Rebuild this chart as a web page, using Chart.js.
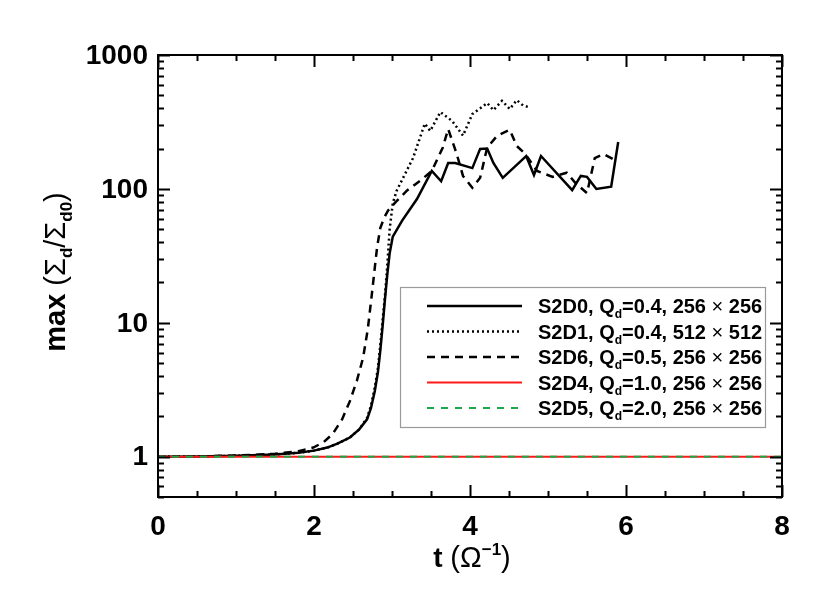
<!DOCTYPE html>
<html>
<head>
<meta charset="utf-8">
<script src="https://cdn.jsdelivr.net/npm/chart.js@4/dist/chart.umd.min.js"></script>
<style>
  html, body { margin: 0; padding: 0; background: #fff; }
  #wrap { width: 830px; height: 600px; }
</style>
</head>
<body>
<div id="wrap"><canvas id="growthChart" width="830" height="600"></canvas></div>
<script>
// run labels for the legend
const runNames = ['S2D0', 'S2D1', 'S2D6', 'S2D4', 'S2D5'];
const qValues = ['0.4', '0.4', '0.5', '1.0', '2.0'];
const gridSizes = ['256 × 256', '512 × 512', '256 × 256', '256 × 256', '256 × 256'];

// S2D0, Qd=0.4, 256x256
const tS2D0 = [0, 0.5, 1.0, 1.5, 1.8, 2.0, 2.17, 2.3, 2.46, 2.58, 2.68, 2.73, 2.78, 2.82, 2.85, 2.88, 2.91, 2.94, 2.97, 3.01, 3.13, 3.32, 3.51, 3.63, 3.72, 3.81, 4.03, 4.13, 4.22, 4.30, 4.42, 4.72, 4.82, 4.91, 5.31, 5.42, 5.50, 5.62, 5.81, 5.90];
const maxS2D0 = [1.0, 1.005, 1.015, 1.04, 1.07, 1.11, 1.17, 1.25, 1.39, 1.6, 1.9, 2.3, 3.1, 4.3, 6.2, 9.5, 15, 23, 33, 44, 58, 84, 136, 114, 156, 156, 143, 199, 200, 156, 121, 176, 127, 176, 98, 125, 123, 100, 104, 224];

// S2D1, Qd=0.4, 512x512
const tS2D1 = [0, 0.5, 1.0, 1.5, 1.8, 2.0, 2.17, 2.3, 2.46, 2.58, 2.68, 2.73, 2.78, 2.82, 2.85, 2.88, 2.91, 2.94, 2.97, 3.01, 3.06, 3.27, 3.42, 3.49, 3.62, 3.77, 3.91, 4.03, 4.22, 4.30, 4.41, 4.51, 4.60, 4.68, 4.77];
const maxS2D1 = [1.0, 1.005, 1.015, 1.04, 1.07, 1.11, 1.17, 1.25, 1.39, 1.6, 1.95, 2.4, 3.3, 4.6, 6.8, 10.5, 16, 27, 50, 78, 97, 170, 307, 271, 375, 322, 250, 362, 438, 387, 455, 395, 460, 420, 405];

// S2D6, Qd=0.5, 256x256
const tS2D6 = [0, 0.5, 1.0, 1.5, 1.8, 1.99, 2.12, 2.24, 2.36, 2.46, 2.55, 2.63, 2.69, 2.74, 2.78, 2.81, 2.85, 2.9, 2.95, 3.04, 3.19, 3.36, 3.51, 3.65, 3.72, 3.83, 3.91, 4.03, 4.13, 4.22, 4.35, 4.51, 4.60, 4.71, 4.86, 5.06, 5.24, 5.35, 5.50, 5.60, 5.71, 5.88];
const maxS2D6 = [1.0, 1.005, 1.02, 1.05, 1.1, 1.17, 1.28, 1.48, 1.9, 2.6, 3.7, 5.5, 9, 16, 26, 37, 51, 61, 69, 79, 97, 115, 136, 203, 280, 182, 125, 102, 121, 203, 250, 276, 209, 182, 136, 123, 132, 111, 93, 170, 182, 162];

// S2D4 and S2D5 stay flat
const tFlat = [0, 8];
const maxS2D4 = [1, 1];
const maxS2D5 = [1, 1];

const xTickLabels = [0, 2, 4, 6, 8];
const yTickLabels = [1, 10, 100, 1000];

const FONT = '"Liberation Sans", Arial, Helvetica, sans-serif';

function toPoints(ts, vs) {
    return ts.map((t, i) => ({ x: t, y: vs[i] }));
}

const seriesStyles = [
    { color: '#000000', width: 2.5, dash: [] },
    { color: '#000000', width: 2.5, dash: [2, 3] },
    { color: '#000000', width: 2.5, dash: [8, 6] },
    { color: '#ff1a1a', width: 2, dash: [] },
    { color: '#1aa84a', width: 2, dash: [7, 7] }
];
const seriesData = [
    toPoints(tS2D0, maxS2D0),
    toPoints(tS2D1, maxS2D1),
    toPoints(tS2D6, maxS2D6),
    toPoints(tFlat, maxS2D4),
    toPoints(tFlat, maxS2D5)
];

// draws a list of runs, some raised or lowered, as one string
function drawRich(ctx, runs, x, y, align) {
    let total = 0;
    runs.forEach(r => {
        ctx.font = r.font;
        r.w = ctx.measureText(r.text).width;
        total += r.w;
    });
    let cx = align === 'center' ? x - total / 2 : (align === 'right' ? x - total : x);
    runs.forEach(r => {
        ctx.font = r.font;
        ctx.fillText(r.text, cx, y + (r.dy || 0));
        cx += r.w;
    });
}

const idlPlugin = {
    id: 'idlStyle',
    afterDatasetsDraw(chart) {
        const ctx = chart.ctx;
        const area = chart.chartArea;
        const xs = chart.scales.x;
        const ys = chart.scales.y;
        ctx.save();
        ctx.strokeStyle = '#000';
        ctx.fillStyle = '#000';
        ctx.lineWidth = 2;
        ctx.setLineDash([]);
        ctx.strokeRect(area.left, area.top, area.right - area.left, area.bottom - area.top);

        // x ticks, inward on bottom and top
        for (let v = 0; v <= 8.001; v += 0.5) {
            const px = Math.round(xs.getPixelForValue(v)) + 0.5;
            const major = Math.abs(v - Math.round(v / 2) * 2) < 1e-6;
            const len = major ? 12 : 6;
            ctx.beginPath();
            ctx.moveTo(px, area.bottom); ctx.lineTo(px, area.bottom - len);
            ctx.moveTo(px, area.top); ctx.lineTo(px, area.top + len);
            ctx.stroke();
        }
        // y ticks, log decades with minor marks
        const yMinor = [];
        [0.1, 1, 10, 100].forEach(d => {
            for (let k = 1; k <= 9; k++) yMinor.push(k * d);
        });
        yMinor.push(1000);
        yMinor.forEach(v => {
            if (v < 0.5 || v > 1000) return;
            const py = Math.round(ys.getPixelForValue(v)) + 0.5;
            const major = yTickLabels.includes(v);
            const len = major ? 12 : 6;
            ctx.beginPath();
            ctx.moveTo(area.left, py); ctx.lineTo(area.left + len, py);
            ctx.moveTo(area.right, py); ctx.lineTo(area.right - len, py);
            ctx.stroke();
        });

        // tick labels
        ctx.font = 'bold 28px ' + FONT;
        ctx.textBaseline = 'middle';
        ctx.textAlign = 'center';
        xTickLabels.forEach(v => {
            ctx.fillText(String(v), xs.getPixelForValue(v), area.bottom + 30);
        });
        ctx.textAlign = 'right';
        yTickLabels.forEach(v => {
            ctx.fillText(String(v), area.left - 10, ys.getPixelForValue(v) + 1);
        });

        // axis titles
        ctx.textAlign = 'left';
        ctx.textBaseline = 'alphabetic';
        drawRich(ctx, [
            { text: 't ', font: 'bold 28px ' + FONT },
            { text: '(Ω', font: '29px ' + FONT },
            { text: '−1', font: 'bold 17px ' + FONT, dy: -12 },
            { text: ')', font: '29px ' + FONT }
        ], 472, 567, 'center');

        ctx.save();
        ctx.translate(65, 272);
        ctx.rotate(-Math.PI / 2);
        drawRich(ctx, [
            { text: 'max ', font: 'bold 29px ' + FONT },
            { text: '(Σ', font: '29px ' + FONT },
            { text: 'd', font: 'bold 17px ' + FONT, dy: 7 },
            { text: '/Σ', font: '29px ' + FONT },
            { text: 'd0', font: 'bold 17px ' + FONT, dy: 7 },
            { text: ')', font: '29px ' + FONT }
        ], 0, 0, 'center');
        ctx.restore();

        // legend box
        const bx = 400, by = 287, bw = 365, bh = 140;
        ctx.fillStyle = '#fff';
        ctx.fillRect(bx, by, bw, bh);
        ctx.strokeStyle = '#9a9a9a';
        ctx.lineWidth = 1.2;
        ctx.strokeRect(bx + 0.5, by + 0.5, bw, bh);
        const legFont = 'bold 20px ' + FONT;
        const subFont = 'bold 12px ' + FONT;
        const timesFont = '20px ' + FONT;
        runNames.forEach((name, i) => {
            const rowY = by + 19 + i * 25.5;
            const st = seriesStyles[i];
            ctx.strokeStyle = st.color;
            ctx.lineWidth = st.width;
            ctx.setLineDash(st.dash);
            ctx.beginPath();
            ctx.moveTo(427, rowY);
            ctx.lineTo(522, rowY);
            ctx.stroke();
            ctx.setLineDash([]);
            ctx.fillStyle = '#000';
            const parts = gridSizes[i].split(' × ');
            drawRich(ctx, [
                { text: name + ', Q', font: legFont },
                { text: 'd', font: subFont, dy: 5 },
                { text: '=' + qValues[i] + ', ' + parts[0] + ' ', font: legFont },
                { text: '×', font: timesFont },
                { text: ' ' + parts[1], font: legFont }
            ], 538, rowY + 7, 'left');
        });
        ctx.restore();
    }
};

new Chart(document.getElementById('growthChart').getContext('2d'), {
    type: 'line',
    data: {
        datasets: runNames.map((name, i) => ({
            label: name + ', Qd=' + qValues[i] + ', ' + gridSizes[i],
            data: seriesData[i],
            borderColor: seriesStyles[i].color,
            borderWidth: seriesStyles[i].width,
            borderDash: seriesStyles[i].dash,
            pointRadius: 0,
            tension: 0,
            fill: false,
            order: 4 - i
        }))
    },
    options: {
        responsive: false,
        animation: false,
        layout: { padding: { left: 158, right: 48, top: 55, bottom: 103 } },
        plugins: { legend: { display: false }, tooltip: { enabled: false } },
        scales: {
            x: { type: 'linear', min: 0, max: 8, display: false },
            y: { type: 'logarithmic', min: 0.5, max: 1000, display: false }
        }
    },
    plugins: [idlPlugin]
});
</script>
</body>
</html>
